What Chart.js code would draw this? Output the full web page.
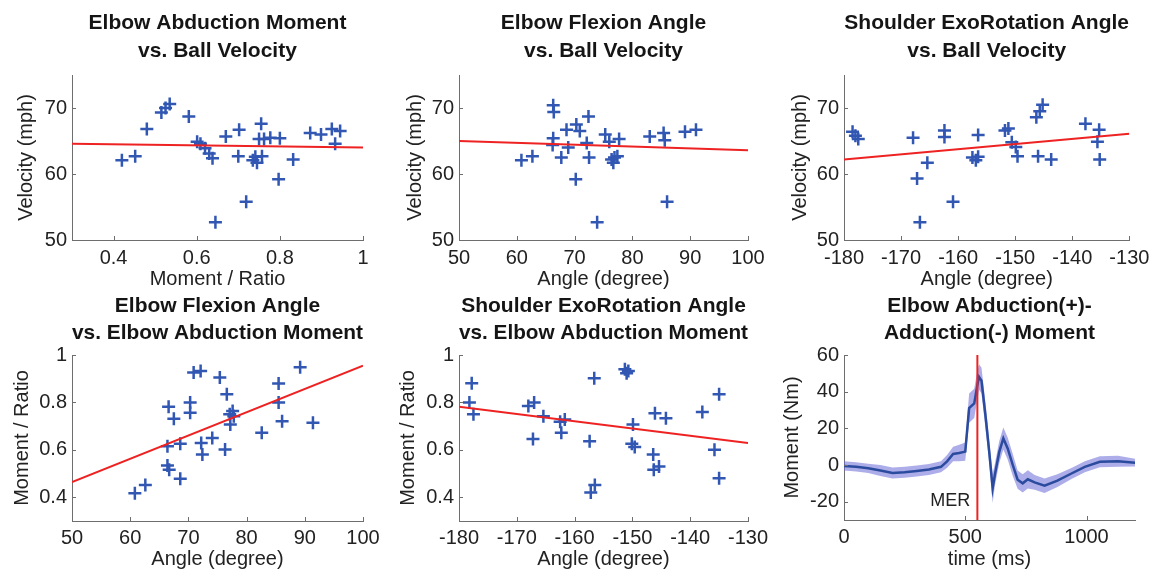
<!DOCTYPE html>
<html><head><meta charset="utf-8">
<script src="https://cdn.jsdelivr.net/npm/chart.js@4/dist/chart.umd.min.js"></script>
<style>
html,body{margin:0;padding:0;background:#fff;width:1156px;height:569px;overflow:hidden;position:relative}
canvas{position:absolute;display:block}
</style></head><body>
<canvas id="c1" width="390" height="300" style="left:0;top:0"></canvas>
<canvas id="c2" width="390" height="300" style="left:385px;top:0"></canvas>
<canvas id="c3" width="386" height="300" style="left:770px;top:0"></canvas>
<canvas id="c4" width="390" height="290" style="left:0;top:290px"></canvas>
<canvas id="c5" width="390" height="290" style="left:385px;top:290px"></canvas>
<canvas id="c6" width="386" height="290" style="left:770px;top:290px"></canvas>
<script>
// ---------- data ----------
const p1Moment   = [0.42,0.452,0.48,0.515,0.525,0.535,0.581,0.601,0.609,0.62,0.63,0.638,0.645,0.67,0.702,0.70,0.719,0.735,0.741,0.745,0.755,0.757,0.75,0.762,0.777,0.80,0.797,0.832,0.873,0.899,0.925,0.945,0.933];
const p1Velocity = [62.1,62.7,66.8,69.3,70.0,70.6,68.7,64.9,64.6,63.9,63.1,62.4,52.7,65.7,66.7,62.7,55.8,62.1,62.6,61.7,67.6,62.7,65.3,65.3,65.5,65.4,59.2,62.2,66.2,66.0,66.8,66.5,64.6];
const p1FitX = [0.3, 1];
const p1FitY = [64.6, 64.0];

const p2Angle    = [60.8,62.7,66.3,66.4,66.3,66.2,67.7,68.6,68.9,70.3,70.9,70.2,72.4,72.1,72.5,73.9,75.3,76.0,76.4,76.7,76.9,77.4,77.7,83.0,85.4,85.6,86.0,89.1,91.0];
const p2Velocity = [62.1,62.7,70.4,69.4,65.4,64.4,62.5,66.7,64.0,67.5,66.5,59.2,68.7,64.7,62.5,52.7,66.0,64.9,62.2,61.7,62.5,62.7,65.3,65.7,66.2,65.1,55.8,66.4,66.7];
const p2FitX = [50, 100];
const p2FitY = [65.0, 63.6];

const p3Angle    = [-178.5,-178.0,-177.5,-167.9,-167.2,-166.7,-165.4,-162.4,-162.4,-160.9,-157.5,-156.9,-156.5,-156.5,-151.8,-151.2,-150.6,-149.9,-149.6,-146.3,-145.7,-145.2,-146.0,-143.7,-137.7,-135.3,-135.6,-135.2];
const p3Velocity = [66.4,65.8,65.3,65.5,59.3,52.7,61.7,66.6,65.6,55.8,62.5,62.1,62.6,65.9,66.6,66.9,64.8,64.1,62.7,68.6,69.5,70.5,62.7,62.2,67.6,66.7,64.9,62.2];
const p3FitX = [-180, -130];
const p3FitY = [62.2, 66.1];

const p4Angle  = [60.8,62.6,66.6,66.4,66.4,66.7,67.5,68.6,68.6,70.3,70.3,70.9,72.1,72.2,72.4,74.1,75.4,76.6,76.3,77.1,77.2,77.6,77.8,82.6,85.5,85.5,86.1,89.2,91.4];
const p4Moment = [0.417,0.452,0.782,0.615,0.534,0.516,0.731,0.626,0.478,0.80,0.757,0.926,0.933,0.629,0.58,0.65,0.905,0.834,0.601,0.75,0.707,0.764,0.742,0.672,0.88,0.80,0.721,0.948,0.714];
const p4FitX = [50, 100];
const p4FitY = [0.464, 0.955];

const p5Angle  = [-177.8,-178.2,-177.5,-168.0,-167.0,-167.2,-165.4,-162.5,-162.3,-161.7,-157.4,-157.2,-156.5,-156.6,-151.3,-150.7,-151.0,-149.9,-150.1,-149.6,-146.4,-146.1,-146.3,-145.4,-144.2,-137.9,-135.0,-135.8,-135.0];
const p5Moment = [0.881,0.80,0.75,0.785,0.80,0.646,0.742,0.718,0.672,0.728,0.636,0.42,0.452,0.902,0.94,0.933,0.923,0.707,0.626,0.612,0.58,0.754,0.516,0.53,0.733,0.76,0.834,0.60,0.48];
const p5FitX = [-180, -130];
const p5FitY = [0.782, 0.629];

const timeMs     = [0,50,100,150,200,250,300,350,400,425,450,475,500,516,537,550,557,567,585,599,613,622,640,657,675,696,716,737,758,786,827,880,940,993,1055,1130,1207];
const meanMoment = [-0.5,-1,-1.8,-3,-4.3,-4,-3.3,-2.5,-1,2,6,6.5,7.3,31,33.6,43.6,48,46,25,7,-12.7,-5.5,7,14.5,9,0,-8,-10,-7.8,-9.5,-11.3,-8.5,-4.5,-1,1.8,2,1.2];
const bandUpper  = [2,1.5,0.7,0,-1.3,-1,-0.3,0.5,2,5.5,10,11,12.3,39,41.6,51.6,55,53,32,13,-4.7,0.5,13,20.5,15,6,-3,-5,-2.8,-5.5,-7.3,-5,-1.5,2,4.8,5,3.2];
const bandLower  = [-3,-3.5,-4.3,-6,-7.3,-7,-6.3,-5.5,-4,-1.5,2,2,2.3,23,25.6,35.6,41,39,18,1,-20.7,-11.5,1,8.5,3,-6,-13,-15,-12.8,-13.5,-15.3,-12,-7.5,-4,-1.2,-1,-0.8];
const merTime = 550;

const velocityTicks = [50, 60, 70];
const ratioTicks = [0.4, 0.6, 0.8, 1];
const momentXTicks = [0.4, 0.6, 0.8, 1];
const flexTicks = [50, 60, 70, 80, 90, 100];
const shoulderTicks = [-180, -170, -160, -150, -140, -130];
const timeTicks = [0, 500, 1000];
const nmTicks = [-20, 0, 20, 40, 60];

// ---------- style ----------
const FONT = "'Liberation Sans', Arial, Helvetica, sans-serif";
Chart.defaults.font.family = FONT;
Chart.defaults.font.size = 20;
Chart.defaults.color = '#222';
const AXIS = '#6e6e6e';
const BLUE = '#3157b3';
const RED = '#ee2222';

const tickMarks = {
  id: 'tickMarks',
  afterDraw(chart) {
    const ctx = chart.ctx, a = chart.chartArea;
    ctx.save();
    ctx.strokeStyle = AXIS; ctx.lineWidth = 1;
    const xs = chart.scales.x, ys = chart.scales.y;
    xs.ticks.forEach(t => {
      const px = Math.round(xs.getPixelForValue(t.value)) + 0.5;
      ctx.beginPath(); ctx.moveTo(px, a.bottom); ctx.lineTo(px, a.bottom - 4); ctx.stroke();
    });
    ys.ticks.forEach(t => {
      const py = Math.round(ys.getPixelForValue(t.value)) + 0.5;
      ctx.beginPath(); ctx.moveTo(a.left, py); ctx.lineTo(a.left + 4, py); ctx.stroke();
    });
    ctx.restore();
  }
};

function scaleCfg(o) {
  return {
    x: {
      type: 'linear', min: o.xMin, max: o.xMax,
      afterBuildTicks: s => { s.ticks = o.xTicks.map(v => ({value: v})); },
      afterFit: s => { s.height = o.xH; },
      ticks: {padding: o.xTickPad, callback: v => String(v), maxRotation: 0, autoSkip: false, color: '#222'},
      grid: {display: false, drawTicks: false},
      border: {display: true, color: AXIS, width: 1},
      title: {display: true, text: o.xTitle, color: '#222', font: {size: 20}, padding: {top: 0, bottom: o.xTitlePad}}
    },
    y: {
      type: 'linear', min: o.yMin, max: o.yMax,
      afterBuildTicks: s => { s.ticks = o.yTicks.map(v => ({value: v})); },
      afterFit: s => { s.width = o.yW; },
      ticks: {padding: 5, callback: v => String(v), autoSkip: false, color: '#222'},
      grid: {display: false, drawTicks: false},
      border: {display: true, color: AXIS, width: 1},
      title: {display: true, text: o.yTitle, color: '#222', font: {size: 20}, padding: {top: o.yTitleC - 11.4, bottom: 0}}
    }
  };
}

function titleCfg(lines, padTop, padBottom) {
  return {display: true, text: lines, fullSize: false, color: '#151515',
          font: {size: 21, weight: 'bold', lineHeight: 27.5 / 21},
          padding: {top: padTop, bottom: padBottom}};
}

const TOP = {xH: 60, xTickPad: 6.6, xTitlePad: 8.6, tPadTop: 9.5, tPadBottom: 10.5};
const BOT = {xH: 59, xTickPad: 5.6, xTitlePad: 8.6, tPadTop: 2, tPadBottom: 8};

function scatterPanel(id, xs, ys, fx, fy, o, row, rightPad) {
  new Chart(document.getElementById(id), {
    type: 'scatter',
    data: {datasets: [
      {type: 'line', data: fx.map((x, i) => ({x: x, y: fy[i]})), borderColor: RED, borderWidth: 2, pointRadius: 0, fill: false},
      {type: 'scatter', data: xs.map((x, i) => ({x: x, y: ys[i]})), pointStyle: 'cross', pointRadius: 6.5,
       borderColor: BLUE, backgroundColor: BLUE, borderWidth: 2.5}
    ]},
    options: {
      responsive: false, animation: false, events: [],
      layout: {padding: {left: 0, top: 0, bottom: 0, right: rightPad}},
      plugins: {legend: {display: false}, tooltip: {enabled: false},
                title: titleCfg(o.title, row.tPadTop, row.tPadBottom)},
      scales: scaleCfg(Object.assign({}, o, {xH: row.xH, xTickPad: row.xTickPad, xTitlePad: row.xTitlePad}))
    },
    plugins: [tickMarks]
  });
}

scatterPanel('c1', p1Moment, p1Velocity, p1FitX, p1FitY, {
  title: ['Elbow Abduction Moment', 'vs. Ball Velocity'],
  xMin: 0.3, xMax: 1, yMin: 50, yMax: 75, xTicks: momentXTicks, yTicks: velocityTicks,
  xTitle: 'Moment / Ratio', yTitle: 'Velocity (mph)', yW: 72, yTitleC: 26}, TOP, 27);

scatterPanel('c2', p2Angle, p2Velocity, p2FitX, p2FitY, {
  title: ['Elbow Flexion Angle', 'vs. Ball Velocity'],
  xMin: 50, xMax: 100, yMin: 50, yMax: 75, xTicks: flexTicks, yTicks: velocityTicks,
  xTitle: 'Angle (degree)', yTitle: 'Velocity (mph)', yW: 74, yTitleC: 30}, TOP, 27);

scatterPanel('c3', p3Angle, p3Velocity, p3FitX, p3FitY, {
  title: ['Shoulder ExoRotation Angle', 'vs. Ball Velocity'],
  xMin: -180, xMax: -130, yMin: 50, yMax: 75, xTicks: shoulderTicks, yTicks: velocityTicks,
  xTitle: 'Angle (degree)', yTitle: 'Velocity (mph)', yW: 74, yTitleC: 30}, TOP, 21);

scatterPanel('c4', p4Angle, p4Moment, p4FitX, p4FitY, {
  title: ['Elbow Flexion Angle', 'vs. Elbow Abduction Moment'],
  xMin: 50, xMax: 100, yMin: 0.3, yMax: 1, xTicks: flexTicks, yTicks: ratioTicks,
  xTitle: 'Angle (degree)', yTitle: 'Moment / Ratio', yW: 72, yTitleC: 22}, BOT, 27);

scatterPanel('c5', p5Angle, p5Moment, p5FitX, p5FitY, {
  title: ['Shoulder ExoRotation Angle', 'vs. Elbow Abduction Moment'],
  xMin: -180, xMax: -130, yMin: 0.3, yMax: 1, xTicks: shoulderTicks, yTicks: ratioTicks,
  xTitle: 'Angle (degree)', yTitle: 'Moment / Ratio', yW: 74, yTitleC: 23}, BOT, 27);

// ---------- panel 6: time series ----------
const merLabel = {
  id: 'merLabel',
  afterDatasetsDraw(chart) {
    const ctx = chart.ctx, xs = chart.scales.x, ys = chart.scales.y;
    ctx.save();
    ctx.font = '18px ' + FONT; ctx.fillStyle = '#222';
    ctx.textAlign = 'center'; ctx.textBaseline = 'middle';
    ctx.fillText('MER', xs.getPixelForValue(438), ys.getPixelForValue(-19.5));
    ctx.restore();
  }
};

new Chart(document.getElementById('c6'), {
  type: 'line',
  data: {datasets: [
    {data: [{x: merTime, y: -30}, {x: merTime, y: 60}], borderColor: RED, borderWidth: 2, pointRadius: 0, fill: false},
    {data: timeMs.map((t, i) => ({x: t, y: meanMoment[i]})), borderColor: '#2a4b9e', borderWidth: 2.5, pointRadius: 0, fill: false, tension: 0},
    {data: timeMs.map((t, i) => ({x: t, y: bandUpper[i]})), borderWidth: 0, borderColor: 'rgba(0,0,0,0)', pointRadius: 0,
     fill: '+1', backgroundColor: 'rgba(105,105,215,0.55)', tension: 0},
    {data: timeMs.map((t, i) => ({x: t, y: bandLower[i]})), borderWidth: 0, borderColor: 'rgba(0,0,0,0)', pointRadius: 0, fill: false, tension: 0}
  ]},
  options: {
    responsive: false, animation: false, events: [],
    layout: {padding: {left: 0, top: 0, bottom: 0, right: 21}},
    plugins: {legend: {display: false}, tooltip: {enabled: false},
              title: titleCfg(['Elbow Abduction(+)-', 'Adduction(-) Moment'], BOT.tPadTop, BOT.tPadBottom)},
    scales: scaleCfg({xMin: 0, xMax: 1200, yMin: -30, yMax: 60, xTicks: timeTicks, yTicks: nmTicks,
      xTitle: 'time (ms)', yTitle: 'Moment (Nm)', yW: 74, yTitleC: 22,
      xH: 60, xTickPad: BOT.xTickPad, xTitlePad: 8.6})
  },
  plugins: [tickMarks, merLabel]
});
</script>
</body></html>
